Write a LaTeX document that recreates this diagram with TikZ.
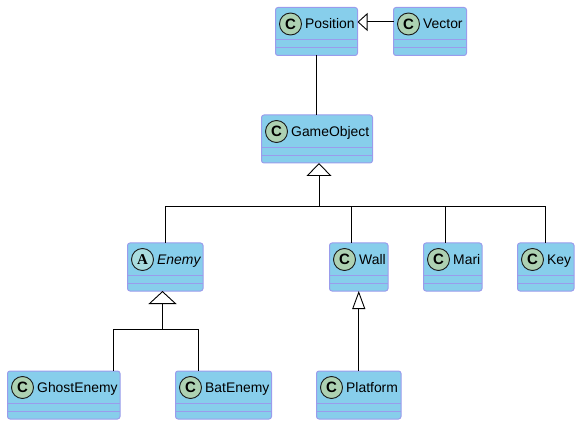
\documentclass[tikz,border=0pt]{standalone}
\usepackage{fontspec}
\setmainfont{Liberation Sans}
\newfontfamily\spotserif{Liberation Serif}
\usetikzlibrary{arrows.meta,calc}
\definecolor{boxfill}{HTML}{87CEEB}
\definecolor{boxline}{HTML}{9A9CEC}
\definecolor{circC}{HTML}{ADD1B2}
\definecolor{circA}{HTML}{A9DCDF}
\tikzset{
  classbox/.style={draw=boxline,fill=boxfill,line width=1pt,rounded corners=2.5pt,minimum height=48pt,inner sep=0pt,outer sep=0pt},
  spot/.style={circle,draw=black!90,line width=0.9pt,minimum size=22pt,inner sep=0pt,font=\fontsize{15}{15}\selectfont\bfseries},
  caption/.style={anchor=base west,inner sep=0pt,font=\fontsize{13.9}{16}\selectfont},
  link/.style={draw=black,line width=1pt},
}
\newcommand{\umlclass}[7]{% id, x0, y0, x1, text, letter, colour
  \pgfmathsetmacro{\wid}{#4-#2}
  \pgfmathsetmacro{\cx}{(#4+#2)/2}
  \node[classbox,minimum width=\wid pt] (#1) at (\cx,#3+24) {};
  \draw[boxline,line width=0.8pt] ($(#1.north west)+(0,32)$) -- ($(#1.north east)+(0,32)$);
  \draw[boxline,line width=0.8pt] ($(#1.north west)+(0,40)$) -- ($(#1.north east)+(0,40)$);
  \node[spot,fill=#7] (#1-spot) at ($(#1.north west)+(15,16.5)$) {#6};
  \node[caption] (#1-text) at ($(#1.north west)+(29.5,21.5)$) {#5};
}
\begin{document}
\begin{tikzpicture}[x=1pt,y=-1pt]
\useasboundingbox (0,0) rectangle (579,425);
\umlclass{position}{275.5}{7.5}{357.5}{Position}{C}{circC}
\umlclass{vector}{393.5}{7.5}{466.5}{Vector}{C}{circC}
\umlclass{gameobject}{261.5}{115}{372.5}{GameObject}{C}{circC}
\umlclass{enemy}{127.5}{243}{203}{\itshape Enemy}{\spotserif A}{circA}
\umlclass{wall}{329.5}{243}{388}{Wall}{C}{circC}
\umlclass{mari}{423.5}{243}{482}{Mari}{C}{circC}
\umlclass{key}{517.5}{243}{574}{Key}{C}{circC}
\umlclass{ghost}{7.5}{371}{120}{GhostEnemy}{C}{circC}
\umlclass{bat}{175.5}{371}{271.5}{BatEnemy}{C}{circC}
\umlclass{platform}{316.5}{371}{401}{Platform}{C}{circC}
% junction coordinates
\coordinate (hubA) at (319,207);
\coordinate (hubB) at (162.5,329);
\coordinate (dropWall) at (351,243);
\coordinate (dropMari) at (445,243);
\coordinate (dropGhost) at (113.5,371);
\coordinate (dropBat) at (198.5,371);
\coordinate (rowV) at (360,22);
% connectors
\draw[link] (position.south) -- (position.south |- gameobject.north);
\draw[link,-{Triangle[open,fill=white,length=10pt,width=18pt,line width=0.9pt]}] (vector.west |- rowV) -- (position.east |- rowV);
\draw[link] (hubA) -- (enemy.north |- hubA) -- (enemy.north);
\draw[link] (hubA) -- (dropWall |- hubA) -- (dropWall);
\draw[link] (hubA) -- (dropMari |- hubA) -- (dropMari);
\draw[link] (hubA) -- (key.north |- hubA) -- (key.north);
\draw[link,-{Triangle[open,fill=white,length=13pt,width=25pt,line width=0.9pt]}] (hubA) -- (hubA |- gameobject.south);
\draw[link] (hubB) -- (dropGhost |- hubB) -- (dropGhost);
\draw[link] (hubB) -- (dropBat |- hubB) -- (dropBat);
\draw[link,-{Triangle[open,fill=white,length=13pt,width=28pt,line width=0.9pt]}] (hubB) -- (hubB |- enemy.south);
\draw[link,-{Triangle[open,fill=white,length=18pt,width=13pt,line width=0.9pt]}] (platform.north -| wall.south) -- (wall.south);
\end{tikzpicture}
\end{document}
